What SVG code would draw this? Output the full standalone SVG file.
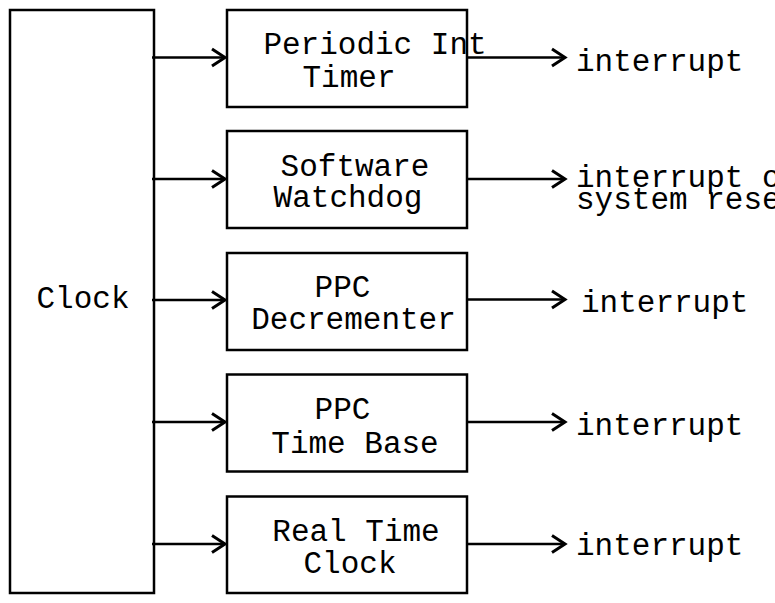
<svg xmlns="http://www.w3.org/2000/svg" width="775" height="603" viewBox="0 0 775 603">
<defs>
<style>
.box{fill:#fff;stroke:#000;stroke-width:2.5}
.t{font-family:"Liberation Mono","DejaVu Sans Mono",monospace;font-size:31px;fill:#000}
.c{text-anchor:middle}
.ln{stroke:#000;stroke-width:2.5;fill:none}
</style>
<marker id="ah" markerUnits="userSpaceOnUse" markerWidth="20" markerHeight="20" viewBox="-16 -10 18 20" refX="0" refY="0" orient="auto" overflow="visible">
<path d="M-13,-8.5 L0,0 L-13,8.5" fill="none" stroke="#000" stroke-width="3"/>
</marker>
</defs>
<rect width="775" height="603" fill="#fff"/>
<g id="clock">
<rect class="box" x="10" y="10" width="144" height="583"/>
<text class="t c" x="83" y="308">Clock</text>
</g>
<g id="pit">
<rect class="box" x="227" y="10" width="240" height="97"/>
<text class="t c" x="375" y="54">Periodic Int</text>
<text class="t c" x="349" y="86.5">Timer</text>
</g>
<g id="swd">
<rect class="box" x="227" y="131" width="240" height="97"/>
<text class="t c" x="355" y="176">Software</text>
<text class="t c" x="348" y="207">Watchdog</text>
</g>
<g id="dec">
<rect class="box" x="227" y="253" width="240" height="97"/>
<text class="t c" x="342.5" y="297">PPC</text>
<text class="t c" x="353.5" y="329">Decrementer</text>
</g>
<g id="tb">
<rect class="box" x="227" y="374.5" width="240" height="97"/>
<text class="t c" x="342.5" y="419">PPC</text>
<text class="t c" x="355" y="452.5">Time Base</text>
</g>
<g id="rtc">
<rect class="box" x="227" y="496.5" width="240" height="96.5"/>
<text class="t c" x="356" y="541">Real Time</text>
<text class="t c" x="350" y="573">Clock</text>
</g>
<g id="outputs">
<text class="t" x="576" y="71">interrupt</text>
<text class="t" x="576" y="187">interrupt or</text>
<text class="t" x="576" y="209">system reset</text>
<text class="t" x="581" y="312">interrupt</text>
<text class="t" x="576" y="435">interrupt</text>
<text class="t" x="576" y="555">interrupt</text>
</g>
<g id="connectors">
<line class="ln" x1="152" y1="57.5" x2="225" y2="57.5" marker-end="url(#ah)"/>
<line class="ln" x1="152" y1="179" x2="225" y2="179" marker-end="url(#ah)"/>
<line class="ln" x1="152" y1="300" x2="225" y2="300" marker-end="url(#ah)"/>
<line class="ln" x1="152" y1="422" x2="225" y2="422" marker-end="url(#ah)"/>
<line class="ln" x1="152" y1="544" x2="225" y2="544" marker-end="url(#ah)"/>
<line class="ln" x1="467" y1="57.5" x2="565" y2="57.5" marker-end="url(#ah)"/>
<line class="ln" x1="467" y1="179" x2="565" y2="179" marker-end="url(#ah)"/>
<line class="ln" x1="467" y1="299.5" x2="565" y2="299.5" marker-end="url(#ah)"/>
<line class="ln" x1="467" y1="422" x2="565" y2="422" marker-end="url(#ah)"/>
<line class="ln" x1="467" y1="544" x2="565" y2="544" marker-end="url(#ah)"/>
</g>
</svg>
